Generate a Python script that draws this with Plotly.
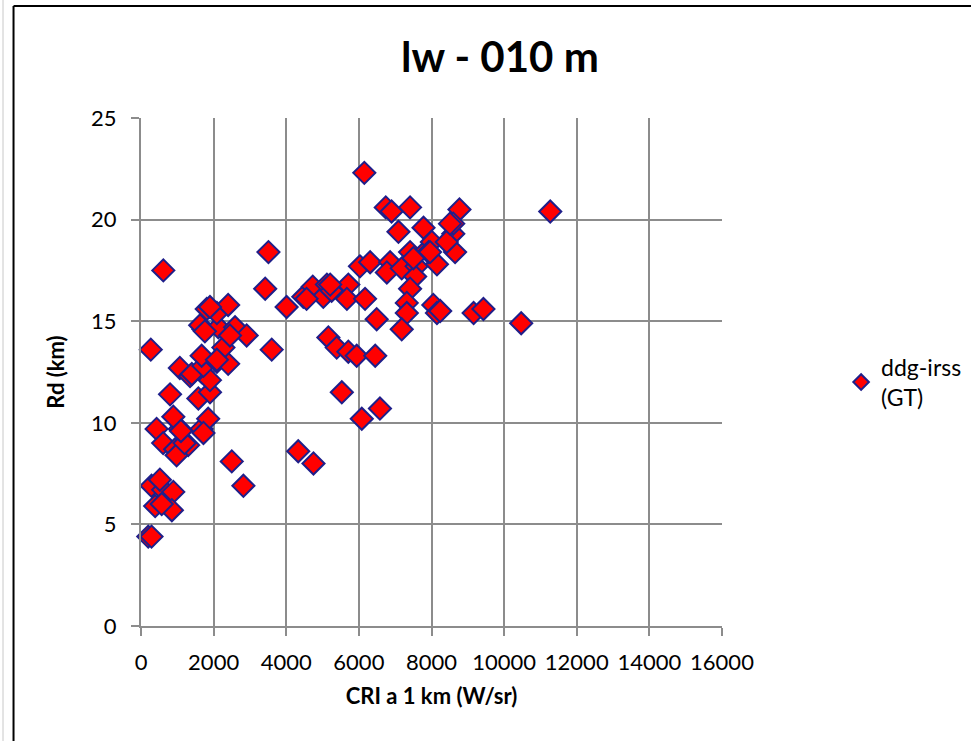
import plotly.graph_objects as go

# CRI a 1 km (W/sr)
cri = [200, 290, 270, 615, 290, 610, 890, 390, 850, 570, 520, 430, 610, 940, 1300, 980,
       1070, 1670, 1850, 890, 800, 1580, 1900, 1070, 1350, 1670, 1900, 1400, 1720, 2090,
       2400, 1670, 2270, 2090, 1720, 1630, 2130, 2590, 2910, 2450, 1810, 2090, 2400, 1900,
       1760, 1720, 2500, 2820, 3420, 3510, 3600, 4010, 4470, 4330, 4750, 4730, 5020, 5120,
       5250, 5710, 5670, 6170, 5160, 5390, 5710, 5940, 6450, 5530, 6080, 6580, 6150, 6740,
       7410, 7090, 7780, 6030, 6310, 6860, 6770, 7180, 7590, 7550, 7410, 7870, 8150, 7410,
       7320, 7320, 6490, 7180, 8050, 8150, 8240, 9160, 9430, 10470, 8770, 11270, 8600, 8600,
       8010, 7920, 8650, 8420, 8510, 7960, 5210, 4560, 6900, 7500, 1200, 1100]
# Rd (km)
rd = [4.4, 4.4, 13.6, 17.5, 6.9, 6.7, 6.6, 5.9, 5.7, 6.0, 7.2, 9.7, 9.0, 8.7, 8.9, 8.4,
      9.7, 9.7, 10.2, 10.3, 11.4, 11.2, 11.5, 12.7, 12.3, 12.5, 12.1, 12.4, 12.8, 13.0,
      12.9, 13.3, 13.7, 13.1, 14.6, 14.8, 14.7, 14.7, 14.3, 14.3, 15.6, 15.4, 15.8, 15.7,
      14.5, 9.5, 8.1, 6.9, 16.6, 18.4, 13.6, 15.7, 16.2, 8.6, 8.0, 16.7, 16.2, 16.8,
      16.5, 16.8, 16.1, 16.1, 14.2, 13.7, 13.5, 13.3, 13.3, 11.5, 10.2, 10.7, 22.3, 20.6,
      20.6, 19.4, 19.6, 17.7, 17.9, 17.9, 17.4, 17.6, 17.7, 17.2, 18.4, 18.5, 17.8, 16.6,
      15.9, 15.4, 15.1, 14.6, 15.8, 15.4, 15.5, 15.4, 15.6, 14.9, 20.5, 20.4, 19.3, 19.8,
      18.9, 18.4, 18.4, 18.9, 19.8, 18.4, 16.8, 16.1, 20.4, 18.1, 9.0, 9.6]

x_ticks = [0, 2000, 4000, 6000, 8000, 10000, 12000, 14000, 16000]
y_ticks = [0, 5, 10, 15, 20, 25]

FONT = "Lato, 'Open Sans', sans-serif"
GRID = "#8c8c8c"

fig = go.Figure()
fig.add_trace(go.Scatter(
    x=cri, y=rd, mode="markers", name="ddg-irss<br>(GT)",
    marker=dict(symbol="diamond", size=17, color="#ff0000",
                line=dict(color="#1f1f8a", width=2)),
    cliponaxis=False,
))

fig.update_layout(
    width=971, height=741,
    margin=dict(l=141, r=249, t=118, b=115, autoexpand=False),
    paper_bgcolor="white", plot_bgcolor="white",
    font=dict(family=FONT, size=22, color="black"),
    showlegend=True,
    legend=dict(x=1.205, y=0.48, xanchor="left", yanchor="middle",
                font=dict(size=23), itemsizing="constant",
                bgcolor="rgba(0,0,0,0)"),
    xaxis=dict(range=[0, 16000], tickvals=x_ticks, ticktext=[str(v) for v in x_ticks],
               automargin=False,
               showgrid=True, gridcolor=GRID, gridwidth=2,
               showline=True, linecolor=GRID, linewidth=2, mirror=False,
               zeroline=False, ticks="outside", ticklen=8, tickcolor=GRID, tickwidth=2,
               tickfont=dict(size=22), ticklabelstandoff=8,
               title=dict(text="<b>CRI a 1 km (W/sr)</b>", font=dict(size=22), standoff=14)),
    yaxis=dict(range=[0, 25], tickvals=y_ticks, automargin=False,
               showgrid=True, gridcolor=GRID, gridwidth=2,
               showline=True, linecolor=GRID, linewidth=2,
               zeroline=False, ticks="outside", ticklen=8, tickcolor=GRID, tickwidth=2,
               tickfont=dict(size=22), ticklabelstandoff=10,
               title=dict(text="<b>Rd (km)</b>", font=dict(size=22), standoff=20)),
    annotations=[dict(text="<b>lw - 010 m</b>", x=0.618, y=1.122, xref="paper", yref="paper",
                      showarrow=False, xanchor="center", yanchor="middle",
                      font=dict(size=42, family=FONT))],
    shapes=[
        dict(type="line", xref="paper", yref="paper", x0=-0.2194, x1=-0.2194, y0=1.2205, y1=-0.25,
             line=dict(color="black", width=2)),
        dict(type="line", xref="paper", yref="paper", x0=-0.2194, x1=1.4286, y0=1.2205, y1=1.2205,
             line=dict(color="black", width=2)),
        dict(type="line", xref="paper", yref="paper", x0=-0.2375, x1=-0.2375, y0=1.24, y1=-0.25,
             line=dict(color="#c8c8c8", width=1)),
    ],
)

fig.write_html("out.html")
